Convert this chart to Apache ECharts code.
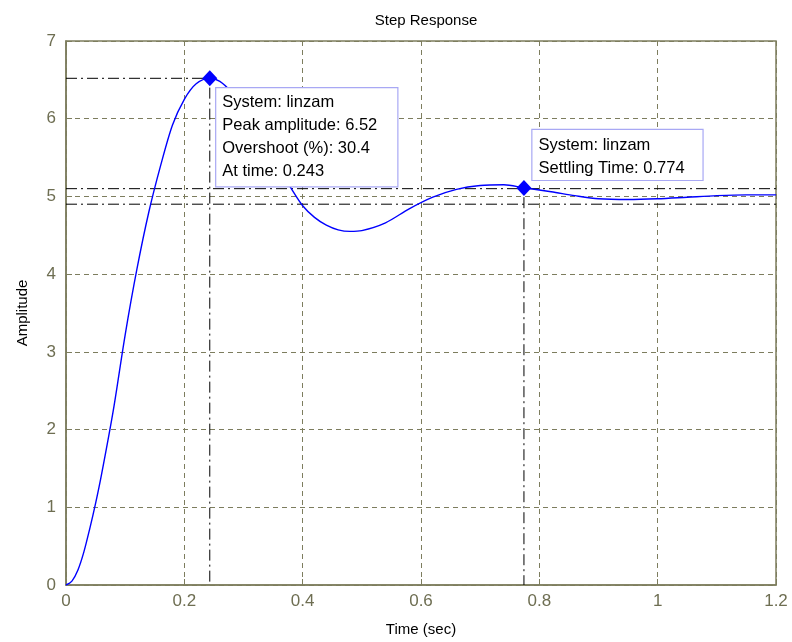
<!DOCTYPE html>
<html>
<head>
<meta charset="utf-8">
<script src="https://cdn.jsdelivr.net/npm/echarts@6/dist/echarts.min.js"></script>
<style>html,body{margin:0;padding:0;background:#fff;}#c{width:792px;height:642px;}</style>
</head>
<body>
<div id="c"></div>
<script>
// Step response values
const times = [0, 0.01, 0.02, 0.03, 0.04, 0.05, 0.06, 0.08, 0.10, 0.12, 0.14, 0.16, 0.18, 0.20, 0.22, 0.243, 0.26, 0.28, 0.30, 0.32, 0.34, 0.36, 0.38, 0.40, 0.42, 0.44, 0.46, 0.48, 0.50, 0.54, 0.58, 0.62, 0.66, 0.70, 0.74, 0.774, 0.82, 0.86, 0.90, 0.95, 1.00, 1.05, 1.10, 1.15, 1.20];
const amplitude = [0, 0.05, 0.19, 0.42, 0.72, 1.05, 1.42, 2.25, 3.22, 4.07, 4.80, 5.40, 5.92, 6.25, 6.45, 6.52, 6.48, 6.34, 6.14, 5.90, 5.63, 5.36, 5.11, 4.88, 4.73, 4.63, 4.57, 4.55, 4.56, 4.66, 4.84, 4.99, 5.09, 5.14, 5.15, 5.11, 5.06, 5.01, 4.97, 4.96, 4.97, 4.99, 5.01, 5.02, 5.02];
const xTicks = [0, 0.2, 0.4, 0.6, 0.8, 1, 1.2];
const yTicks = [0, 1, 2, 3, 4, 5, 6, 7];
const peakTime = 0.243, peakAmp = 6.52, overshoot = 30.4;
const settleTime = 0.774, settleAmp = 5.11;
const bandHigh = 5.1, bandLow = 4.9;
const systemName = 'linzam';

const olive = '#7d7d5e';
const txtOlive = '#6e6e52';
const refStyle = { color: '#000', width: 1, type: [11, 4, 2, 4] };
const font = 'Liberation Sans, Arial, sans-serif';

const chart = echarts.init(document.getElementById('c'), null, { renderer: 'canvas' });
chart.setOption({
  animation: false,
  backgroundColor: '#fff',
  title: {
    text: 'Step Response', left: 421, top: 8, textAlign: 'center',
    textStyle: { color: '#000', fontSize: 15, fontWeight: 'normal', fontFamily: font }
  },
  grid: { left: 66, right: 16, top: 41, bottom: 55, show: true, borderColor: olive, borderWidth: 1.5, backgroundColor: '#fff' },
  xAxis: {
    type: 'value', min: xTicks[0], max: xTicks[xTicks.length - 1], interval: 0.2,
    name: 'Time (sec)', nameLocation: 'middle', nameGap: 37,
    nameTextStyle: { color: '#000', fontSize: 15, fontFamily: font },
    axisLine: { show: true, lineStyle: { color: olive, width: 1.5 } },
    axisTick: { show: true, inside: true, length: 6, lineStyle: { color: olive } },
    axisLabel: { color: txtOlive, fontSize: 17, fontFamily: font, margin: 8, formatter: v => String(+v.toFixed(1)) },
    splitLine: { show: true, lineStyle: { color: olive, type: [5, 4], width: 1 } }
  },
  yAxis: {
    type: 'value', min: yTicks[0], max: yTicks[yTicks.length - 1], interval: 1,
    name: 'Amplitude', nameLocation: 'middle', nameGap: 36,
    nameTextStyle: { color: '#000', fontSize: 15, fontFamily: font },
    axisLine: { show: true, lineStyle: { color: olive, width: 1.5 } },
    axisTick: { show: true, inside: true, length: 6, lineStyle: { color: olive } },
    axisLabel: { color: txtOlive, fontSize: 17, fontFamily: font, margin: 10 },
    splitLine: { show: true, lineStyle: { color: olive, type: [5, 4], width: 1 } }
  },
  series: [
    { type: 'line', z: 3, symbol: 'none', silent: true, lineStyle: refStyle,
      data: [[0, peakAmp], [peakTime, peakAmp]] },
    { type: 'line', z: 3, symbol: 'none', silent: true, lineStyle: refStyle,
      data: [[peakTime, peakAmp - 0.12], [peakTime, 0]] },
    { type: 'line', z: 3, symbol: 'none', silent: true, lineStyle: refStyle,
      data: [[0, bandHigh], [xTicks[xTicks.length - 1], bandHigh]] },
    { type: 'line', z: 3, symbol: 'none', silent: true, lineStyle: refStyle,
      data: [[0, bandLow], [xTicks[xTicks.length - 1], bandLow]] },
    { type: 'line', z: 3, symbol: 'none', silent: true, lineStyle: refStyle,
      data: [[settleTime, settleAmp - 0.12], [settleTime, 0]] },
    { type: 'line', z: 4, symbol: 'none', smooth: 0.3, silent: true,
      lineStyle: { color: '#0000ff', width: 1.4 },
      data: times.map((t, i) => [t, amplitude[i]]) },
    { type: 'scatter', z: 10, symbol: 'diamond', symbolSize: [15, 16],
      itemStyle: { color: '#0000ff', opacity: 1 },
      data: [
        { value: [peakTime, peakAmp],
          label: { show: true, position: [14, 18], align: 'left', verticalAlign: 'top',
            formatter: ['System: ' + systemName, 'Peak amplitude: ' + peakAmp, 'Overshoot (%): ' + overshoot, 'At time: ' + peakTime].join('\n'),
            color: '#000', fontSize: 16.5, fontFamily: font, lineHeight: 23,
            backgroundColor: '#ffffff', borderColor: '#a8a8f4', borderWidth: 1.2, opacity: 1,
            padding: [3, 6, 3, 6], width: 169 } },
        { value: [settleTime, settleAmp],
          label: { show: true, position: [16, -50], align: 'left', verticalAlign: 'top',
            formatter: ['System: ' + systemName, 'Settling Time: ' + settleTime].join('\n'),
            color: '#000', fontSize: 16.5, fontFamily: font, lineHeight: 23,
            backgroundColor: '#ffffff', borderColor: '#a8a8f4', borderWidth: 1.2, opacity: 1,
            padding: [4, 6, 0, 6], width: 158 } }
      ] }
  ]
});
</script>
</body>
</html>
